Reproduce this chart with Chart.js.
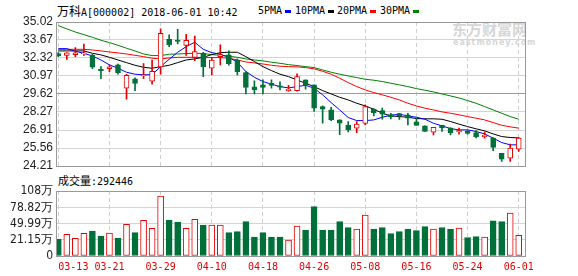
<!DOCTYPE html>
<html>
<head>
<meta charset="utf-8">
<script src="https://cdn.jsdelivr.net/npm/chart.js@4"></script>
<style>
  body { margin: 0; background: #fff; width: 578px; height: 276px; position: relative; overflow: hidden; }
  .txt { position: absolute; font: 10px "DejaVu Sans Mono", monospace; color: #000; white-space: pre; line-height: 14px; }
  .cjk { font-family: "Noto Sans CJK SC", sans-serif; }
  .mark { position: absolute; width: 6px; height: 3px; }
  canvas { position: absolute; left: 0; }
  .wm { position: absolute; color: #d6d6d6; font-family: "Noto Sans CJK SC", sans-serif; font-weight: bold; white-space: pre; }
</style>
</head>
<body>
<div class="txt" style="left:57px; top:4px;"><span class="cjk" style="font-size:12px">万科</span>A[000002] 2018-06-01 10:42</div>
<div class="txt" style="left:258px; top:4px;">5PMA</div>
<div class="mark" style="left:285px; top:10px; background:#0000ff;"></div>
<div class="txt" style="left:295px; top:4px;">10PMA</div>
<div class="mark" style="left:328px; top:10px; background:#000;"></div>
<div class="txt" style="left:337px; top:4px;">20PMA</div>
<div class="mark" style="left:370px; top:10px; background:#ff0000;"></div>
<div class="txt" style="left:380px; top:4px;">30PMA</div>
<div class="mark" style="left:413px; top:10px; background:#008000;"></div>
<div class="wm" style="left:452px; top:20px; font-size:15px; line-height:18px;">东方财富网</div>
<div class="wm" style="left:453px; top:38px; font-size:8px; line-height:9px; letter-spacing:1px; font-family:'DejaVu Sans',sans-serif;">eastmoney.com</div>

<canvas id="priceChart" width="578" height="170" style="top:0;"></canvas>

<div class="txt" style="left:58px; top:173px;"><span class="cjk" style="font-size:11px">成交量</span>:292446</div>

<canvas id="volChart" width="578" height="106" style="top:170px;"></canvas>

<script>
// Daily data, 2018-03-13 .. 2018-06-01
const dates = ["03-13", "03-14", "03-15", "03-16", "03-19", "03-20", "03-21", "03-22", "03-23", "03-26",
  "03-27", "03-28", "03-29", "03-30", "04-02", "04-03", "04-04", "04-09", "04-10", "04-11",
  "04-12", "04-13", "04-16", "04-17", "04-18", "04-19", "04-20", "04-23", "04-24", "04-25",
  "04-26", "04-27", "05-02", "05-03", "05-04", "05-07", "05-08", "05-09", "05-10", "05-11",
  "05-14", "05-15", "05-16", "05-17", "05-18", "05-21", "05-22", "05-23", "05-24", "05-25",
  "05-28", "05-29", "05-30", "05-31", "06-01"];

const opens = [32.64, 32.52, 32.57, 32.62, 32.52, 31.47, 31.52, 31.80, 30.05, 30.75,
  30.97, 30.57, 31.65, 33.72, 33.67, 33.27, 32.37, 32.67, 31.55, 32.42,
  32.55, 32.17, 31.22, 30.15, 30.30, 30.42, 30.22, 29.87, 29.87, 30.67,
  30.30, 28.67, 28.42, 27.67, 27.27, 27.05, 27.40, 28.47, 28.37, 28.07,
  28.15, 28.05, 27.52, 27.22, 26.75, 27.27, 27.05, 26.77, 26.82, 26.72,
  26.42, 26.30, 25.17, 24.80, 25.47];
const highs = [32.72, 32.72, 33.10, 33.37, 32.60, 31.67, 31.80, 31.87, 31.10, 30.82,
  31.90, 32.17, 34.50, 34.05, 34.47, 34.10, 33.97, 32.75, 32.37, 33.30,
  32.85, 32.25, 31.30, 30.60, 30.67, 30.67, 30.52, 30.27, 31.12, 30.67,
  30.30, 28.72, 28.62, 27.67, 27.55, 27.55, 28.80, 28.52, 28.55, 28.17,
  28.17, 28.17, 27.80, 27.22, 27.12, 27.27, 27.10, 27.05, 26.92, 26.87,
  26.77, 26.35, 25.17, 25.85, 26.35];
const lows = [32.42, 32.22, 32.42, 32.52, 31.52, 30.77, 31.30, 31.10, 29.22, 29.87,
  30.77, 30.35, 31.10, 33.17, 33.37, 32.52, 32.12, 30.92, 31.05, 31.80,
  31.77, 31.05, 29.62, 29.62, 29.62, 30.05, 29.92, 29.80, 29.82, 29.97,
  28.30, 27.42, 27.62, 26.57, 26.77, 26.72, 27.30, 27.97, 27.72, 27.75,
  27.70, 27.30, 27.25, 26.80, 26.55, 26.80, 26.55, 26.60, 26.60, 26.32,
  26.30, 25.37, 24.55, 24.55, 25.30];
const closes = [32.50, 32.70, 32.70, 32.70, 31.62, 31.37, 31.65, 31.22, 31.02, 30.40,
  31.07, 31.32, 34.17, 33.30, 33.57, 33.65, 32.80, 31.67, 32.17, 32.57,
  31.90, 31.30, 30.10, 29.92, 30.10, 30.25, 30.12, 29.97, 30.92, 30.25,
  28.55, 28.47, 27.67, 27.42, 26.92, 27.35, 28.67, 28.22, 28.10, 27.92,
  27.97, 27.80, 27.25, 26.80, 27.12, 27.07, 26.72, 26.87, 26.65, 26.40,
  26.52, 25.60, 24.72, 25.55, 26.30];

// volume in 万 (10k)
const volumes = [22.6, 30.9, 23.8, 32.7, 36.8, 27.9, 33.2, 24.3, 48.7, 33.8,
  55.8, 41.6, 99.1, 56.4, 52.8, 41.6, 57.6, 47.5, 47.5, 47.5,
  33.8, 35.6, 53.4, 26.1, 33.8, 26.1, 26.1, 20.8, 45.7, 38.6,
  80.1, 38.6, 38.6, 53.4, 42.7, 40.4, 65.3, 40.4, 42.7, 32.1,
  35.6, 40.4, 37.4, 44.5, 40.4, 42.7, 40.4, 42.1, 24.9, 26.7,
  26.1, 55.1, 53.4, 68.8, 29.24];

const ma5 = [33.02, 33.02, 32.82, 32.67, 32.47, 32.17, 31.80, 31.55, 31.25, 31.10,
  31.05, 31.07, 31.67, 32.22, 32.75, 33.17, 33.50, 32.97, 32.72, 32.60,
  32.37, 32.00, 31.30, 30.87, 30.55, 30.35, 30.17, 30.07, 30.17, 30.27,
  30.05, 29.55, 28.97, 28.42, 27.85, 27.62, 27.62, 27.67, 27.87, 28.02,
  28.10, 27.97, 27.87, 27.72, 27.42, 27.22, 27.02, 26.92, 26.92, 26.80,
  26.62, 26.30, 25.97, 25.80, 25.80];
const ma10 = [32.85, 32.85, 32.85, 32.85, 32.67, 32.55, 32.37, 32.17, 31.97, 31.77,
  31.62, 31.55, 31.67, 31.77, 31.97, 32.17, 32.25, 32.37, 32.57, 32.72,
  32.75, 32.75, 32.42, 32.05, 31.67, 31.37, 31.10, 30.92, 30.67, 30.42,
  30.17, 29.87, 29.62, 29.37, 29.17, 28.92, 28.72, 28.47, 28.17, 27.97,
  27.92, 27.87, 27.77, 27.75, 27.75, 27.72, 27.55, 27.35, 27.17, 27.00,
  26.85, 26.62, 26.42, 26.35, 26.32];
const ma20 = [32.97, 32.97, 32.97, 32.97, 32.92, 32.85, 32.77, 32.70, 32.62, 32.52,
  32.42, 32.30, 32.25, 32.32, 32.37, 32.37, 32.37, 32.35, 32.35, 32.35,
  32.30, 32.17, 32.02, 31.95, 31.87, 31.77, 31.70, 31.67, 31.65, 31.60,
  31.50, 31.32, 31.10, 30.80, 30.47, 30.17, 29.92, 29.72, 29.55, 29.37,
  29.17, 28.92, 28.72, 28.55, 28.42, 28.27, 28.17, 28.05, 27.92, 27.80,
  27.67, 27.47, 27.27, 27.15, 27.05];
const ma30 = [34.75, 34.50, 34.27, 34.07, 33.87, 33.65, 33.47, 33.27, 33.05, 32.85,
  32.62, 32.50, 32.50, 32.60, 32.62, 32.65, 32.67, 32.65, 32.57, 32.52,
  32.45, 32.37, 32.25, 32.17, 32.10, 32.00, 31.92, 31.82, 31.75, 31.67,
  31.60, 31.42, 31.25, 31.10, 30.97, 30.85, 30.72, 30.65, 30.55, 30.42,
  30.30, 30.17, 30.02, 29.90, 29.77, 29.62, 29.47, 29.32, 29.12, 28.92,
  28.67, 28.42, 28.17, 27.92, 27.72];

const priceTicks = [24.21, 25.56, 26.91, 28.27, 29.62, 30.97, 32.32, 33.67, 35.02];
const volTicks = [-7.69, 21.15, 49.99, 78.82, 108];
const labelIdx = [0, 6, 12, 18, 24, 30, 36, 42, 48, 54];

const upColor = "#e60000";
const downColor = "#00703a";
const isUp = closes.map(function (c, i) { return c >= opens[i]; });

// grey box round the plot area
const frame = {
  id: "frame",
  afterDraw(chart) {
    const a = chart.chartArea;
    const ctx = chart.ctx;
    ctx.save();
    ctx.strokeStyle = "#999";
    ctx.lineWidth = 1;
    ctx.strokeRect(Math.round(a.left) + 0.5, Math.round(a.top) + 0.5,
      Math.round(a.right) - Math.round(a.left), Math.round(a.bottom) - Math.round(a.top));
    ctx.restore();
  }
};

function xAxis(showLabels) {
  return {
    type: "linear",
    min: -0.27,
    max: 54.77,
    offset: false,
    afterBuildTicks: function (s) { s.ticks = labelIdx.map(function (v) { return { value: v }; }); },
    afterFit: function (s) { s.paddingLeft = 0; s.paddingRight = 0; s.height = showLabels ? 20 : 0; },
    grid: { color: "#cfcfcf", drawTicks: false, offset: false },
    border: { display: false, dash: [4, 3] },
    ticks: {
      display: showLabels,
      autoSkip: false,
      maxRotation: 0,
      padding: 5,
      color: "#e60000",
      font: { family: "DejaVu Sans Mono", size: 10 },
      callback: function (v) { return (v === 0 ? "     " : "") + dates[v]; }
    }
  };
}

function yAxis(min, max, ticks, fmt, font) {
  return {
    min: min,
    max: max,
    afterBuildTicks: function (s) { s.ticks = ticks.map(function (v) { return { value: v }; }); },
    afterFit: function (s) { s.width = 56; s.paddingTop = 0; s.paddingBottom = 0; },
    grid: {
      drawTicks: false,
      color: function (ctx) { return ctx.tick && ctx.tick.value === 29.62 ? "#9a9a9a" : "#d4d4d4"; }
    },
    border: { display: false },
    ticks: { autoSkip: false, padding: 3, color: "#222", font: font, callback: fmt }
  };
}

const idx = dates.map(function (d, i) { return i; });

// Price chart
new Chart(document.getElementById("priceChart"), {
  type: "bar",
  data: {
    datasets: [
      {
        label: "body",
        order: 0,
        grouped: false,
        data: idx.map(function (i) { return { x: i, y: [opens[i], closes[i]] }; }),
        backgroundColor: idx.map(function (i) { return isUp[i] ? "#ffffff" : downColor; }),
        borderColor: idx.map(function (i) { return isUp[i] ? upColor : downColor; }),
        borderWidth: 1,
        borderSkipped: false,
        barThickness: 5
      },
      {
        label: "wick",
        order: 1,
        grouped: false,
        data: idx.map(function (i) { return { x: i, y: [lows[i], highs[i]] }; }),
        backgroundColor: idx.map(function (i) { return isUp[i] ? upColor : downColor; }),
        borderWidth: 0,
        barThickness: 1
      },
      { type: "line", label: "5PMA", order: 2, data: idx.map(function (i) { return { x: i, y: ma5[i] }; }), borderColor: "#0000ff", borderWidth: 1, pointRadius: 0 },
      { type: "line", label: "10PMA", order: 3, data: idx.map(function (i) { return { x: i, y: ma10[i] }; }), borderColor: "#000000", borderWidth: 1, pointRadius: 0 },
      { type: "line", label: "20PMA", order: 4, data: idx.map(function (i) { return { x: i, y: ma20[i] }; }), borderColor: "#ff0000", borderWidth: 1, pointRadius: 0 },
      { type: "line", label: "30PMA", order: 5, data: idx.map(function (i) { return { x: i, y: ma30[i] }; }), borderColor: "#008000", borderWidth: 1, pointRadius: 0 }
    ]
  },
  options: {
    responsive: false,
    animation: false,
    layout: { padding: { top: 22, right: 52.7, bottom: 4, left: 0 } },
    plugins: { legend: { display: false }, tooltip: { enabled: false } },
    scales: {
      x: xAxis(false),
      y: yAxis(24.21, 35.02, priceTicks, function (v) { return v.toFixed(2); },
        { family: "Liberation Sans", size: 12 })
    }
  },
  plugins: [frame]
});

// Volume chart
new Chart(document.getElementById("volChart"), {
  type: "bar",
  data: {
    datasets: [
      {
        label: "volume",
        data: idx.map(function (i) { return { x: i, y: volumes[i] }; }),
        base: volTicks[0],
        backgroundColor: idx.map(function (i) { return isUp[i] ? "#ffffff" : downColor; }),
        borderColor: idx.map(function (i) { return isUp[i] ? upColor : downColor; }),
        borderWidth: 1,
        borderSkipped: false,
        barThickness: 6
      }
    ]
  },
  options: {
    responsive: false,
    animation: false,
    layout: { padding: { top: 21, right: 52.7, bottom: 0, left: 0 } },
    plugins: { legend: { display: false }, tooltip: { enabled: false } },
    scales: {
      x: xAxis(true),
      y: yAxis(volTicks[0], 108, volTicks, function (v) { return v === volTicks[0] ? "0" : v + "万"; },
        { family: "'Liberation Sans Narrow', 'DejaVu Sans Condensed', 'Liberation Sans'", size: 12 })
    }
  },
  plugins: [frame]
});
</script>
</body>
</html>
